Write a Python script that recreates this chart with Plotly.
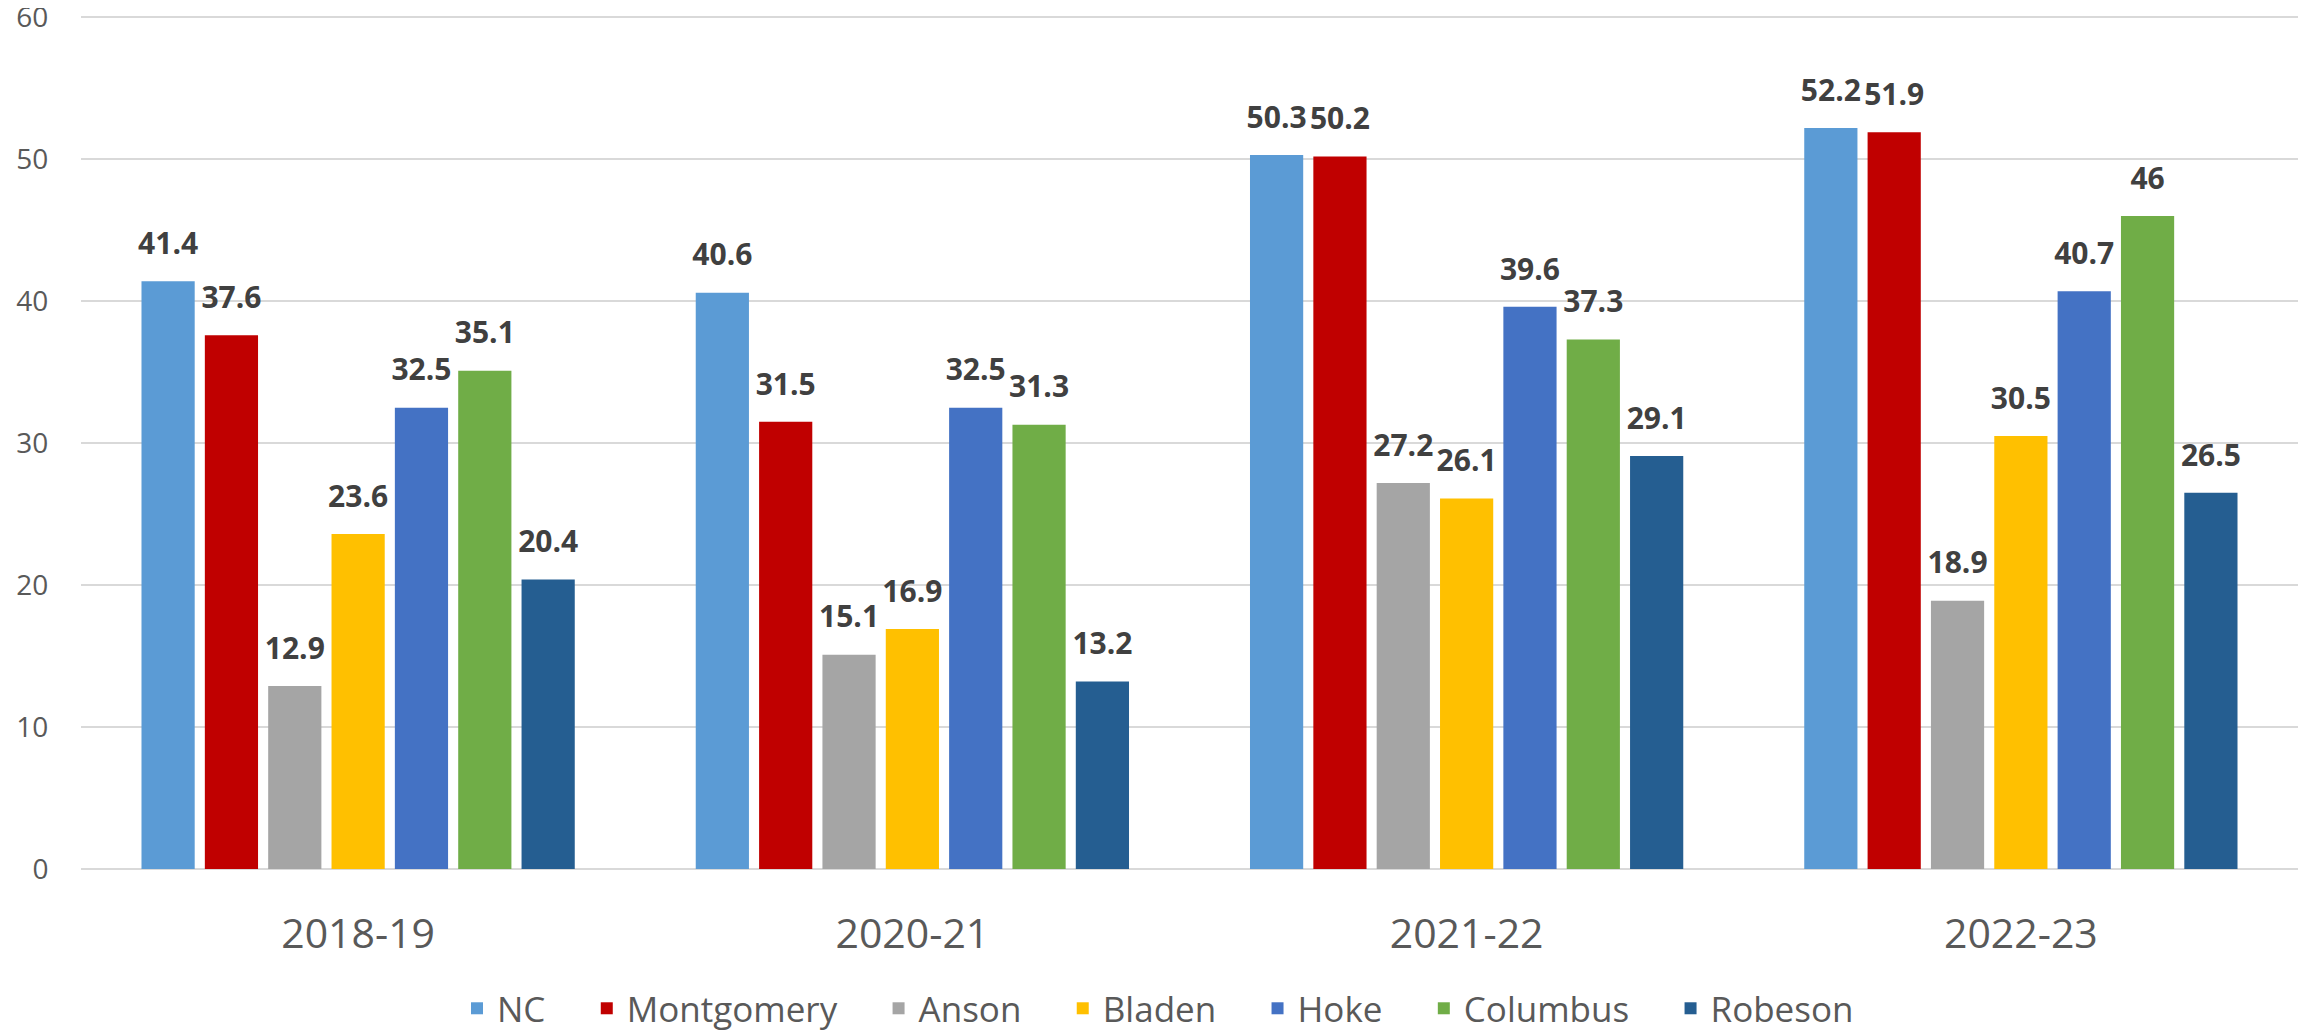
import plotly.graph_objects as go

categories = ["2018-19", "2020-21", "2021-22", "2022-23"]
series_names = ["NC", "Montgomery", "Anson", "Bladen", "Hoke", "Columbus", "Robeson"]
nc = [41.4, 40.6, 50.3, 52.2]
montgomery = [37.6, 31.5, 50.2, 51.9]
anson = [12.9, 15.1, 27.2, 18.9]
bladen = [23.6, 16.9, 26.1, 30.5]
hoke = [32.5, 32.5, 39.6, 40.7]
columbus = [35.1, 31.3, 37.3, 46]
robeson = [20.4, 13.2, 29.1, 26.5]
colors = ["#5B9BD5", "#C00000", "#A5A5A5", "#FFC000", "#4472C4", "#70AD47", "#255E91"]
y_ticks = [0, 10, 20, 30, 40, 50, 60]

values = [nc, montgomery, anson, bladen, hoke, columbus, robeson]
PAD = "\u00a0" * 4  # extra spacing after each legend entry

fig = go.Figure()
for name, vals, col in zip(series_names, values, colors):
    fig.add_trace(go.Bar(
        x=categories, y=vals, name=name + PAD,
        marker=dict(color=col, line=dict(width=0)),
    ))
for name, vals, col in zip(series_names, values, colors):
    fig.add_trace(go.Scatter(
        x=categories, y=vals, name=name + " labels",
        mode="markers+text", orientation="v",
        text=[f"{v:g}" for v in vals], textposition="top center",
        textfont=dict(family="Open Sans", size=30, color="#404040", weight="bold"),
        marker=dict(size=30, opacity=0, color=col),
        showlegend=False, cliponaxis=False, hoverinfo="skip",
    ))

fig.update_layout(
    width=2310, height=1030,
    margin=dict(l=73, r=20, t=5, b=169, autoexpand=False),
    paper_bgcolor="white", plot_bgcolor="white",
    barmode="group", bargap=0.2, bargroupgap=0.16,
    scattermode="group", scattergap=0.2,
    font=dict(family="Open Sans", color="#595959"),
    legend=dict(
        orientation="h", x=0.1696, xanchor="left",
        y=-0.163, yanchor="middle",
        font=dict(family="Open Sans", size=35, color="#595959"),
        itemwidth=30,
    ),
    xaxis=dict(
        type="category", showgrid=False, showline=False, zeroline=False,
        automargin=False,
        ticks="outside", ticklen=29, tickcolor="rgba(0,0,0,0)",
        tickfont=dict(family="Open Sans", size=41, color="#595959"),
    ),
    yaxis=dict(
        range=[0, 60.3], tickvals=y_ticks, showgrid=True, gridcolor="#D9D9D9", gridwidth=2,
        zeroline=True, zerolinecolor="#D9D9D9", zerolinewidth=2, showline=False,
        automargin=False, ticklabeloverflow="allow",
        ticks="outside", ticklen=26, tickcolor="rgba(0,0,0,0)",
        tickfont=dict(family="Open Sans", size=28, color="#595959"),
    ),
)

fig.write_html("out.html")
